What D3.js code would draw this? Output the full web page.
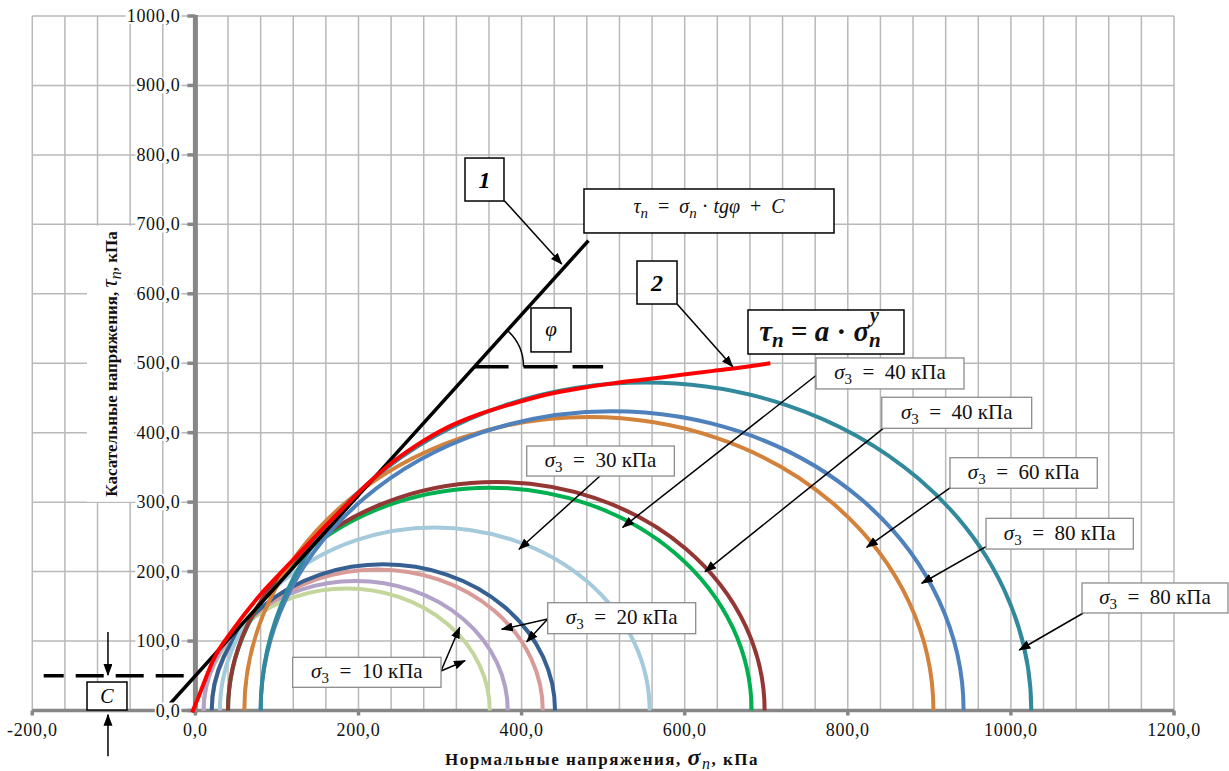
<!DOCTYPE html>
<html>
<head>
<meta charset="utf-8">
<script src="https://cdn.jsdelivr.net/npm/d3@7"></script>
<style>
  html, body { margin: 0; padding: 0; background: #fff; }
  svg { display: block; }
  svg text { font-family: "Liberation Serif", "Times New Roman", serif; }
</style>
</head>
<body>
<svg id="chart" width="1229" height="771"></svg>
<script>
// ---- Mohr circles (kPa): minor and major principal stresses ----
const sigma3 = [10, 10, 20, 20, 30, 40, 40, 60, 80, 80];
const sigma1 = [361, 383, 426, 441, 557, 682, 698, 905, 942, 1025];

// ---- Envelope 2: τn = a·σn^y ----
const envSigma = [-4, 5.6, 22, 46.5, 79, 110, 145, 180, 210, 240, 270, 308, 349, 390, 431, 472, 512, 553, 594, 635, 676, 705];
const envTau   = [-3, 25, 73, 117, 166, 205, 248, 290, 325, 356, 381, 407, 427, 442, 455, 464, 471, 477, 483, 489, 495, 500];

// ---- Envelope 1: τn = σn·tgφ + C ----
const tgPhi = 1.3;
const cohesion = 50;
const lineSigma = [-31, 482];
const phiLevel = 495;       // horizontal reference for the angle φ
const phiDashEnd = 500;     // σn where that reference ends

// ---- Axis ticks ----
const xTickValues = [-200, 0, 200, 400, 600, 800, 1000, 1200];
const xTickLabels = ["-200,0", "0,0", "200,0", "400,0", "600,0", "800,0", "1000,0", "1200,0"];
const yTickValues = [0, 100, 200, 300, 400, 500, 600, 700, 800, 900, 1000];
const yTickLabels = ["0,0", "100,0", "200,0", "300,0", "400,0", "500,0", "600,0", "700,0", "800,0", "900,0", "1000,0"];

// ---- Callout texts ----
const sigma3Callouts = [10, 20, 30, 40, 40, 60, 80, 80];

// ------------------------------------------------------------------
const circleColors = ["#c3d69b", "#b3a2c7", "#d99b98", "#376092", "#a5cadb",
                      "#00b050", "#943634", "#d3823b", "#4f81bd", "#31899c"];

// callout geometry, in axis units: box [σ left, τ top, σ right, τ bottom], arrow start, arrow tips
const calloutLayout = [
  { box: [119.3, 76.6, 301.2, 33.4],   from: [301.2, 56.9],  tips: [[324.1, 119.8], [330.6, 71.7]] },
  { box: [432, 155.2, 613.5, 110.6],   from: [432, 131.7],   tips: [[375.6, 116.9], [406.3, 99.1]] },
  { box: [406.3, 380.8, 587.3, 337.6], from: [496.1, 337.6], tips: [[396.8, 232.1]] },
  { box: [761, 507.6, 942.5, 463],     from: [761, 482.4],   tips: [[524, 263.8]] },
  { box: [841.6, 451, 1025.5, 406.3],  from: [843.5, 406.3], tips: [[624.9, 199.9]] },
  { box: [925.3, 364, 1105.9, 320],    from: [926.2, 321.4], tips: [[823.2, 235]] },
  { box: [969.5, 276.7, 1150.1, 232.5],from: [969.5, 235.9], tips: [[890.6, 183.2]] },
  { box: [1087.2, 183.6, 1266.2, 140.4], from: [1088.8, 140.4], tips: [[1010.3, 87.1]] }
];

const svg = d3.select("#chart");
const W = 1229, H = 771;
svg.append("rect").attr("width", W).attr("height", H).attr("fill", "#fff");

const x = d3.scaleLinear().domain([-200, 1200]).range([32.3, 1174]);
const y = d3.scaleLinear().domain([0, 1000]).range([710.5, 16]);

// arrowhead
const defs = svg.append("defs");
defs.append("marker")
  .attr("id", "arrow")
  .attr("markerUnits", "userSpaceOnUse")
  .attr("markerWidth", 12).attr("markerHeight", 10)
  .attr("refX", 11).attr("refY", 4.5)
  .attr("orient", "auto")
  .append("path").attr("d", "M0,0 L12,4.5 L0,9 Z").attr("fill", "#000");

// ---- grid ----
const grid = svg.append("g");
grid.selectAll("line.gx").data(d3.range(-200, 1201, 40)).join("line")
  .attr("x1", d => x(d)).attr("x2", d => x(d))
  .attr("y1", y(0)).attr("y2", y(1000))
  .attr("stroke", "#b9b9b9").attr("stroke-width", 1.5);
grid.selectAll("line.gy").data(d3.range(0, 1001, 100)).join("line")
  .attr("x1", x(-200)).attr("x2", x(1200))
  .attr("y1", d => y(d)).attr("y2", d => y(d))
  .attr("stroke", "#b9b9b9").attr("stroke-width", 1.5);

// ---- axes ----
const axisColor = "#878787";
svg.append("line").attr("x1", x(-200)).attr("x2", x(1200)).attr("y1", y(0)).attr("y2", y(0))
  .attr("stroke", axisColor).attr("stroke-width", 3.5);
svg.append("line").attr("x1", x(0)).attr("x2", x(0)).attr("y1", y(0) + 2).attr("y2", y(1000) - 1)
  .attr("stroke", axisColor).attr("stroke-width", 5);
svg.selectAll("line.xt").data(xTickValues).join("line")
  .attr("x1", d => x(d)).attr("x2", d => x(d)).attr("y1", y(0)).attr("y2", y(0) + 5)
  .attr("stroke", axisColor).attr("stroke-width", 3.5);
svg.selectAll("line.yt").data(yTickValues).join("line")
  .attr("x1", x(0) - 8).attr("x2", x(0)).attr("y1", d => y(d)).attr("y2", d => y(d))
  .attr("stroke", axisColor).attr("stroke-width", 3.5);

// ---- Mohr circles ----
const circles = sigma3.map((s3, i) => ({ s3, s1: sigma1[i], color: circleColors[i] }));
svg.append("g").selectAll("path").data(circles).join("path")
  .attr("d", d => {
    const c = (d.s1 + d.s3) / 2, r = (d.s1 - d.s3) / 2;
    const rx = x(c + r) - x(c), ry = y(0) - y(r);
    return `M${x(d.s3)},${y(0)} A${rx},${ry} 0 0 1 ${x(d.s1)},${y(0)}`;
  })
  .attr("fill", "none").attr("stroke", d => d.color).attr("stroke-width", 4);

// ---- straight envelope ----
const straight = lineSigma.map(s => [s, s * tgPhi + cohesion]);
svg.append("line")
  .attr("x1", x(straight[0][0])).attr("y1", y(straight[0][1]))
  .attr("x2", x(straight[1][0])).attr("y2", y(straight[1][1]))
  .attr("stroke", "#000").attr("stroke-width", 3.5);

// ---- power-law envelope ----
const envPoints = envSigma.map((s, i) => [s, envTau[i]]);
svg.append("path")
  .attr("d", d3.line().x(d => x(d[0])).y(d => y(d[1])).curve(d3.curveMonotoneX)(envPoints))
  .attr("fill", "none").attr("stroke", "#ff0000").attr("stroke-width", 4);

// ---- cohesion level C ----
svg.append("line")
  .attr("x1", x(-186)).attr("x2", x(-10)).attr("y1", y(cohesion)).attr("y2", y(cohesion))
  .attr("stroke", "#000").attr("stroke-width", 3.5)
  .attr("stroke-dasharray", "28,12").attr("stroke-dashoffset", 8);

// ---- angle φ ----
const phiSigma = (phiLevel - cohesion) / tgPhi;
const px0 = x(phiSigma), py0 = y(phiLevel);
svg.append("line")
  .attr("x1", px0).attr("x2", x(phiDashEnd)).attr("y1", py0).attr("y2", py0)
  .attr("stroke", "#000").attr("stroke-width", 3.5)
  .attr("stroke-dasharray", "34,15");
const slopePx = (y(0) - y(tgPhi * 100)) / (x(100) - x(0));
const ang = Math.atan(slopePx);
const rArc = 49;
svg.append("path")
  .attr("d", `M${px0 + rArc * Math.cos(ang)},${py0 - rArc * Math.sin(ang)} A${rArc},${rArc} 0 0 1 ${px0 + rArc},${py0}`)
  .attr("fill", "none").attr("stroke", "#000").attr("stroke-width", 1.5);

// ---- helpers for boxes ----
function box(b, stroke, sw) {
  return svg.append("rect")
    .attr("x", x(b[0])).attr("y", y(b[1]))
    .attr("width", x(b[2]) - x(b[0])).attr("height", y(b[3]) - y(b[1]))
    .attr("fill", "#fff").attr("stroke", stroke).attr("stroke-width", sw);
}
function arrow(from, to) {
  svg.append("line")
    .attr("x1", x(from[0])).attr("y1", y(from[1]))
    .attr("x2", x(to[0])).attr("y2", y(to[1]))
    .attr("stroke", "#000").attr("stroke-width", 1.5)
    .attr("marker-end", "url(#arrow)");
}
function boxCenter(b) { return [(x(b[0]) + x(b[2])) / 2, (y(b[1]) + y(b[3])) / 2]; }

// ---- σ3 callouts ----
sigma3Callouts.forEach((v, i) => {
  const L = calloutLayout[i];
  L.tips.forEach(t => arrow(L.from, t));
  box(L.box, "#8c8c8c", 1.3);
  const [cx, cy] = boxCenter(L.box);
  const t = svg.append("text").attr("x", cx).attr("y", cy + 6)
    .attr("text-anchor", "middle").attr("font-size", 21).attr("fill", "#111");
  t.append("tspan").attr("font-style", "italic").text("σ");
  t.append("tspan").attr("font-size", 15).attr("dy", 5).text("3");
  t.append("tspan").attr("dy", -5).text("\u2002=\u2002" + v + " кПа");
});

// ---- line 1 label ----
const box1 = [330.6, 795.5, 378.4, 733.6];
arrow([378.8, 734.1], [449.2, 642.9]);
box(box1, "#000", 1.5);
svg.append("text").attr("x", boxCenter(box1)[0]).attr("y", boxCenter(box1)[1] + 8)
  .attr("text-anchor", "middle").attr("font-size", 24)
  .attr("font-weight", "bold").attr("font-style", "italic").text("1");

const f1 = [476.5, 750.9, 783.1, 687.6];
box(f1, "#000", 1.5);
{
  const [cx, cy] = boxCenter(f1);
  const t = svg.append("text").attr("x", cx).attr("y", cy + 2)
    .attr("text-anchor", "middle").attr("font-size", 20).attr("fill", "#111");
  t.append("tspan").attr("font-style", "italic").text("τ");
  t.append("tspan").attr("font-style", "italic").attr("font-size", 15).attr("dy", 5).text("n");
  t.append("tspan").attr("dy", -5).text("\u2002=\u2002");
  t.append("tspan").attr("font-style", "italic").text("σ");
  t.append("tspan").attr("font-style", "italic").attr("font-size", 15).attr("dy", 5).text("n");
  t.append("tspan").attr("dy", -5).text(" · ");
  t.append("tspan").attr("font-style", "italic").text("tgφ");
  t.append("tspan").text("\u2002+\u2002");
  t.append("tspan").attr("font-style", "italic").text("C");
}

// ---- line 2 label ----
const box2 = [541.5, 647.2, 590.6, 585.3];
arrow([590.9, 584.9], [658.9, 495]);
box(box2, "#000", 1.5);
svg.append("text").attr("x", boxCenter(box2)[0]).attr("y", boxCenter(box2)[1] + 8)
  .attr("text-anchor", "middle").attr("font-size", 24)
  .attr("font-weight", "bold").attr("font-style", "italic").text("2");

const f2 = [677.6, 576.7, 868.9, 513.3];
box(f2, "#000", 1.5);
{
  const [cx, cy] = boxCenter(f2);
  const base = cy + 9;
  const t = svg.append("text").attr("x", cx - 6).attr("y", base)
    .attr("text-anchor", "middle").attr("font-size", 29)
    .attr("font-weight", "bold").attr("fill", "#111");
  t.append("tspan").attr("font-style", "italic").text("τ");
  t.append("tspan").attr("font-style", "italic").attr("font-size", 21).attr("dy", 6).text("n");
  t.append("tspan").attr("dy", -6).text(" = ");
  t.append("tspan").attr("font-style", "italic").text("a");
  t.append("tspan").text(" · ");
  t.append("tspan").attr("font-style", "italic").text("σ");
  const sub = t.append("tspan").attr("font-style", "italic").attr("font-size", 21).attr("dy", 6).text("n");
  // exponent sits above the subscript, as its own text element
  const n = t.node().getNumberOfChars();
  const subStart = t.node().getStartPositionOfChar(n - 1);
  svg.append("text").attr("x", subStart.x + 1).attr("y", base - 19)
    .attr("font-size", 20).attr("font-weight", "bold").attr("font-style", "italic")
    .attr("fill", "#111").text("y");
}

// ---- φ label ----
const phiBox = [411.5, 579.6, 460.6, 516.3];
box(phiBox, "#000", 1.5);
svg.append("text").attr("x", boxCenter(phiBox)[0]).attr("y", boxCenter(phiBox)[1] + 6)
  .attr("text-anchor", "middle").attr("font-size", 21)
  .attr("font-style", "italic").text("φ");

// ---- C label ----
const cBox = [-132.9, 41, -83.9, 0.7];
arrow([-107.2, 113], [-107.2, 51]);
arrow([-107.2, -66], [-107.2, -6]);
box(cBox, "#000", 1.5);
svg.append("text").attr("x", boxCenter(cBox)[0]).attr("y", boxCenter(cBox)[1] + 7)
  .attr("text-anchor", "middle").attr("font-size", 20)
  .attr("font-style", "italic").text("C");

// ---- tick labels ----
const tickFont = 18;
yTickValues.forEach((v, i) => {
  const t = svg.append("text").attr("x", x(0) - 15).attr("y", y(v) + 6)
    .attr("text-anchor", "end").attr("font-size", tickFont).attr("letter-spacing", 0.7)
    .attr("fill", "#111").text(yTickLabels[i]);
  const bb = t.node().getBBox();
  svg.insert("rect", () => t.node())
    .attr("x", bb.x - 1).attr("y", bb.y + 2).attr("width", bb.width + 2).attr("height", bb.height - 4)
    .attr("fill", "#fff");
});
xTickValues.forEach((v, i) => {
  svg.append("text").attr("x", x(v)).attr("y", 736)
    .attr("text-anchor", "middle").attr("font-size", tickFont).attr("letter-spacing", 0.7)
    .attr("fill", "#111").text(xTickLabels[i]);
});

// ---- axis titles ----
{
  const g = svg.append("g").attr("transform", "translate(111,364) rotate(-90)");
  const t = g.append("text").attr("x", 0).attr("y", 6)
    .attr("text-anchor", "middle").attr("font-size", 17)
    .attr("font-weight", "bold").attr("fill", "#111");
  t.append("tspan").text("Касательные напряжения,  ");
  t.append("tspan").attr("font-style", "italic").attr("font-weight", "normal").attr("font-size", 23).text("τ");
  t.append("tspan").attr("font-style", "italic").attr("font-weight", "normal").attr("font-size", 16).attr("dy", 4).text("n");
  t.append("tspan").attr("dy", -4).text(",  кПа");
  const bb = t.node().getBBox();
  g.insert("rect", "text")
    .attr("x", bb.x - 5).attr("y", bb.y - 10).attr("width", bb.width + 10).attr("height", bb.height + 20)
    .attr("fill", "#fff");
}
{
  const t = svg.append("text").attr("x", 602).attr("y", 765)
    .attr("text-anchor", "middle").attr("font-size", 17)
    .attr("font-weight", "bold").attr("letter-spacing", 1.5).attr("fill", "#111");
  t.append("tspan").text("Нормальные напряжения,  ");
  t.append("tspan").attr("font-style", "italic").attr("font-size", 24).text("σ");
  t.append("tspan").attr("font-style", "italic").attr("font-weight", "normal").attr("font-size", 16).attr("dy", 4).text("n");
  t.append("tspan").attr("dy", -4).text(",  кПа");
}
</script>
</body>
</html>
